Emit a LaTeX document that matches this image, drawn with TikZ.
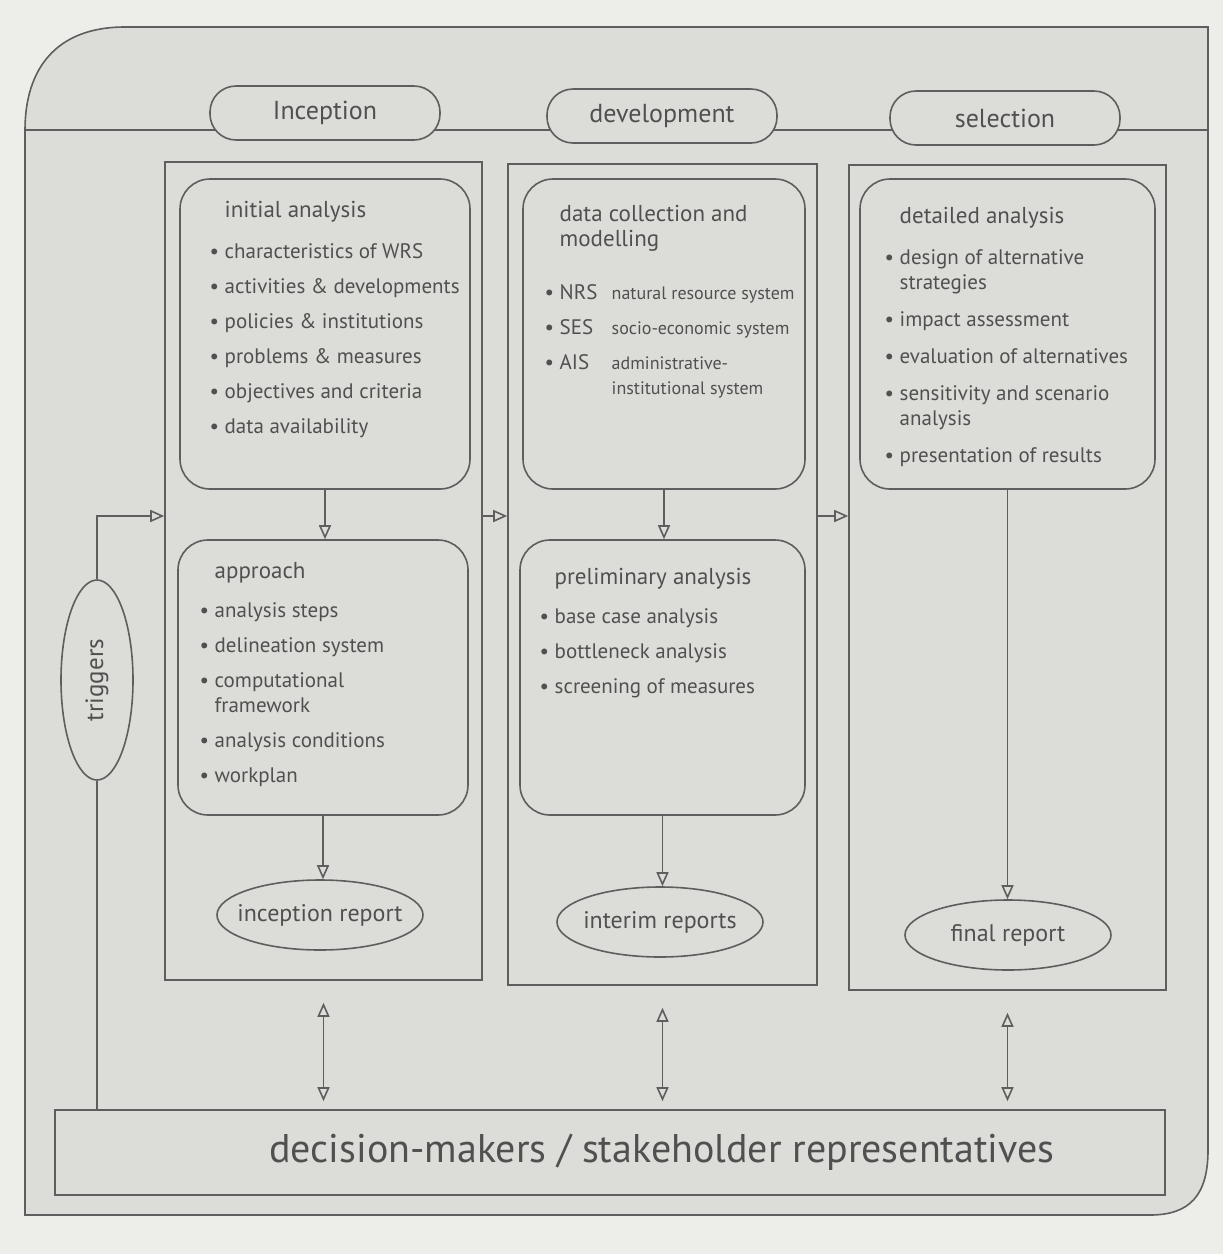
\documentclass[tikz,border=0pt]{standalone}
\usepackage{fontspec}
\setmainfont{PT Sans}
\usetikzlibrary{arrows.meta,fit,shapes.geometric,calc}
\definecolor{paper}{HTML}{EDEDEA}
\definecolor{sheet}{HTML}{DCDCD8}
\definecolor{ink}{HTML}{5E5E5E}
\definecolor{txt}{HTML}{505050}
\newcommand\bul{\textbullet\ }
\newcommand\nobul{\hphantom{\textbullet\ }}
\newcommand\hd[1]{{\fontsize{11.5}{13}\selectfont #1}}
\begin{document}
\begin{tikzpicture}[x=0.5pt,y=-0.5pt,
  line/.style={draw=ink, line width=0.8pt},
  col/.style={line, fill=sheet, inner sep=0pt},
  rbox/.style={line, rounded corners=15pt, inner sep=0pt},
  pill/.style={line, fill=sheet, rounded corners=13pt, minimum width=115pt,
    minimum height=27pt, font=\fontsize{13}{15}\selectfont, text=txt},
  report/.style={line, ellipse, fill=sheet, minimum width=103pt,
    minimum height=35pt, inner xsep=-7pt, inner ysep=2pt,
    font=\fontsize{12}{14}\selectfont, text=txt},
  boxtext/.style={anchor=north west, align=left, text=txt,
    font=\fontsize{10.5}{12.5}\selectfont, inner sep=0pt},
  flow/.style={line, -{Triangle[open,length=7pt,width=6pt]}},
  both/.style={line, {Triangle[open,length=7pt,width=6pt]}-{Triangle[open,length=7pt,width=6pt]}},
]
% background and frame
\fill[paper] (0,0) rectangle (1223,1254);
\draw[line, fill=sheet] (25,1215) -- (25,130)
  .. controls (25,70) and (55,27) .. (125,27) -- (1208,27) -- (1208,1150)
  .. controls (1208,1195) and (1190,1215) .. (1150,1215) -- cycle;
\draw[line] (25,130) -- (1208,130);

% phase labels
\node[pill] (inc) at (325,113) {Inception};
\node[pill] (dev) at (662,116) {development};
\node[pill] (sel) at (1005,118) {selection};

% columns
\node[col, fit={(165,162) (482,980)}] (c1) {};
\node[col, fit={(508,164) (817,985)}] (c2) {};
\node[col, fit={(849,165) (1166,990)}] (c3) {};

% inner boxes
\node[rbox, fit={(180,179) (470,489)}] (ia) {};
\node[rbox, fit={(523,179) (805,489)}] (dc) {};
\node[rbox, fit={(860,179) (1155,489)}] (da) {};
\node[rbox, fit={(178,540) (468,815)}] (ap) {};
\node[rbox, fit={(520,540) (805,815)}] (pa) {};

% box texts
\node[boxtext] (iat) at ($(ia.north west)+(30,23)$) {%
  \nobul\hd{initial analysis}\\[8pt]
  \bul characteristics of WRS\\[5pt]
  \bul activities \& developments\\[5pt]
  \bul policies \& institutions\\[5pt]
  \bul problems \& measures\\[5pt]
  \bul objectives and criteria\\[5pt]
  \bul data availability};
\node[boxtext] (apt) at ($(ap.north west)+(22,23)$) {%
  \nobul\hd{approach}\\[7pt]
  \bul analysis steps\\[5pt]
  \bul delineation system\\[5pt]
  \bul computational\\
  \nobul framework\\[5pt]
  \bul analysis conditions\\[5pt]
  \bul workplan};
\node[boxtext] (dct) at ($(dc.north west)+(22,27)$) {%
  \nobul\hd{data collection and}\\[0pt]
  \nobul\hd{modelling}\\[14pt]
  \bul\makebox[26pt][l]{NRS}{\fontsize{9}{10}\selectfont natural resource system}\\[5pt]
  \bul\makebox[26pt][l]{SES}{\fontsize{9}{10}\selectfont socio-economic system}\\[5pt]
  \bul\makebox[26pt][l]{AIS}\parbox[t]{110pt}{\fontsize{9}{12.5}\selectfont administrative-\\institutional system}};
\node[boxtext] (pat) at ($(pa.north west)+(20,29)$) {%
  \nobul\hd{preliminary analysis}\\[7pt]
  \bul base case analysis\\[5pt]
  \bul bottleneck analysis\\[5pt]
  \bul screening of measures};
\node[boxtext] (dat) at ($(da.north west)+(25,29)$) {%
  \nobul\hd{detailed analysis}\\[8pt]
  \bul design of alternative\\
  \nobul strategies\\[6pt]
  \bul impact assessment\\[6pt]
  \bul evaluation of alternatives\\[6pt]
  \bul sensitivity and scenario\\
  \nobul analysis\\[6pt]
  \bul presentation of results};

% reports
\node[report] (ir) at (320,915) {inception report};
\node[report] (im) at (660,922) {interim reports};
\node[report] (fr) at (1008,935) {final report};

% triggers and decision makers
\node[line, ellipse, fill=sheet, minimum width=36pt, minimum height=100pt,
  text=txt, font=\fontsize{12.5}{14}\selectfont] (trg) at (97,680) {\rotatebox{90}{triggers}};
\node[line, fill=sheet, inner sep=0pt, fit={(55,1110) (1165,1195)}] (dm) {};
\node[text=txt, font=\fontsize{20}{22}\selectfont] (dmt) at (662,1152)
  {decision-makers / stakeholder representatives};

% flows inside columns
\draw[flow] (ia.south) -- (ia.south |- ap.north);
\draw[flow] (ap.south) -- (ap.south |- ir.north);
\draw[flow] (dc.south) -- (dc.south |- pa.north);
\draw[flow] (pa.south) -- (pa.south |- im.north);
\draw[flow] (da.south) -- (da.south |- fr.north);

% flows between columns
\coordinate (lvl) at (0,516);
\draw[flow] (c1.east |- lvl) -- (c2.west |- lvl);
\draw[flow] (c2.east |- lvl) -- (c3.west |- lvl);
\draw[flow] (trg.north) |- (c1.west |- lvl);
\draw[line] (trg.south) -- (trg.south |- dm.north);

% interaction with decision makers
\draw[both] ($(c1.south)+(0,22)$) -- ($(c1.south |- dm.north)+(0,-8)$);
\draw[both] ($(c2.south)+(0,22)$) -- ($(c2.south |- dm.north)+(0,-8)$);
\draw[both] ($(c3.south)+(0,22)$) -- ($(c3.south |- dm.north)+(0,-8)$);
\end{tikzpicture}
\end{document}
